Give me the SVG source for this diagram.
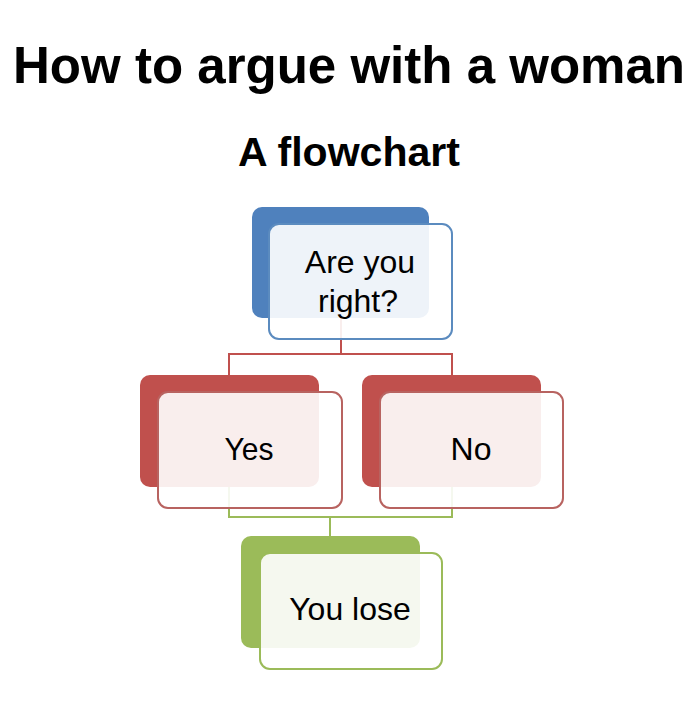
<svg xmlns="http://www.w3.org/2000/svg" width="700" height="702" viewBox="0 0 700 702">
<style>
.title{font-family:"Liberation Sans",Arial,sans-serif;font-weight:bold;fill:#000}
.lbl{font-family:"Liberation Sans",Arial,sans-serif;font-size:32px;fill:#000;text-anchor:middle}
.front{stroke-width:2;fill:#fff;fill-opacity:0.9}
.conn{fill:none;stroke-width:2}
</style>
<rect width="700" height="702" fill="#fff"/>
<text class="title" x="349" y="83" font-size="52" text-anchor="middle" textLength="672" lengthAdjust="spacingAndGlyphs">How to argue with a woman</text>
<text class="title" x="349" y="166" font-size="40" text-anchor="middle" textLength="222" lengthAdjust="spacingAndGlyphs">A flowchart</text>
<g id="connectors">
<path class="conn" stroke="#C0504D" d="M341,318 V354 M229,354 H452 M229,353 V376 M452,353 V376"/>
<path class="conn" stroke="#9BBB59" d="M229,487 V517 M452,487 V517 M228,517 H453 M330,517 V537"/>
</g>
<g id="node-right">
<rect x="252" y="207" width="177" height="111" rx="10" fill="#4F81BD"/>
<rect class="front" x="269" y="224" width="183" height="115" rx="10" stroke="#5B8BBF"/>
<text class="lbl" x="360" y="273">Are you</text>
<text class="lbl" x="358" y="312">right?</text>
</g>
<g id="node-yes">
<rect x="140" y="375" width="179" height="112" rx="10" fill="#C0504D"/>
<rect class="front" x="158" y="392" width="184" height="116" rx="10" stroke="#B86360"/>
<text class="lbl" x="249" y="460" textLength="49" lengthAdjust="spacingAndGlyphs">Yes</text>
</g>
<g id="node-no">
<rect x="362" y="375" width="179" height="112" rx="10" fill="#C0504D"/>
<rect class="front" x="380" y="392" width="183" height="116" rx="10" stroke="#B86360"/>
<text class="lbl" x="471" y="460">No</text>
</g>
<g id="node-lose">
<rect x="241" y="536" width="179" height="112" rx="10" fill="#9BBB59"/>
<rect class="front" x="260" y="553" width="182" height="116" rx="10" stroke="#9BBB59"/>
<text class="lbl" x="350" y="620">You lose</text>
</g>
</svg>
